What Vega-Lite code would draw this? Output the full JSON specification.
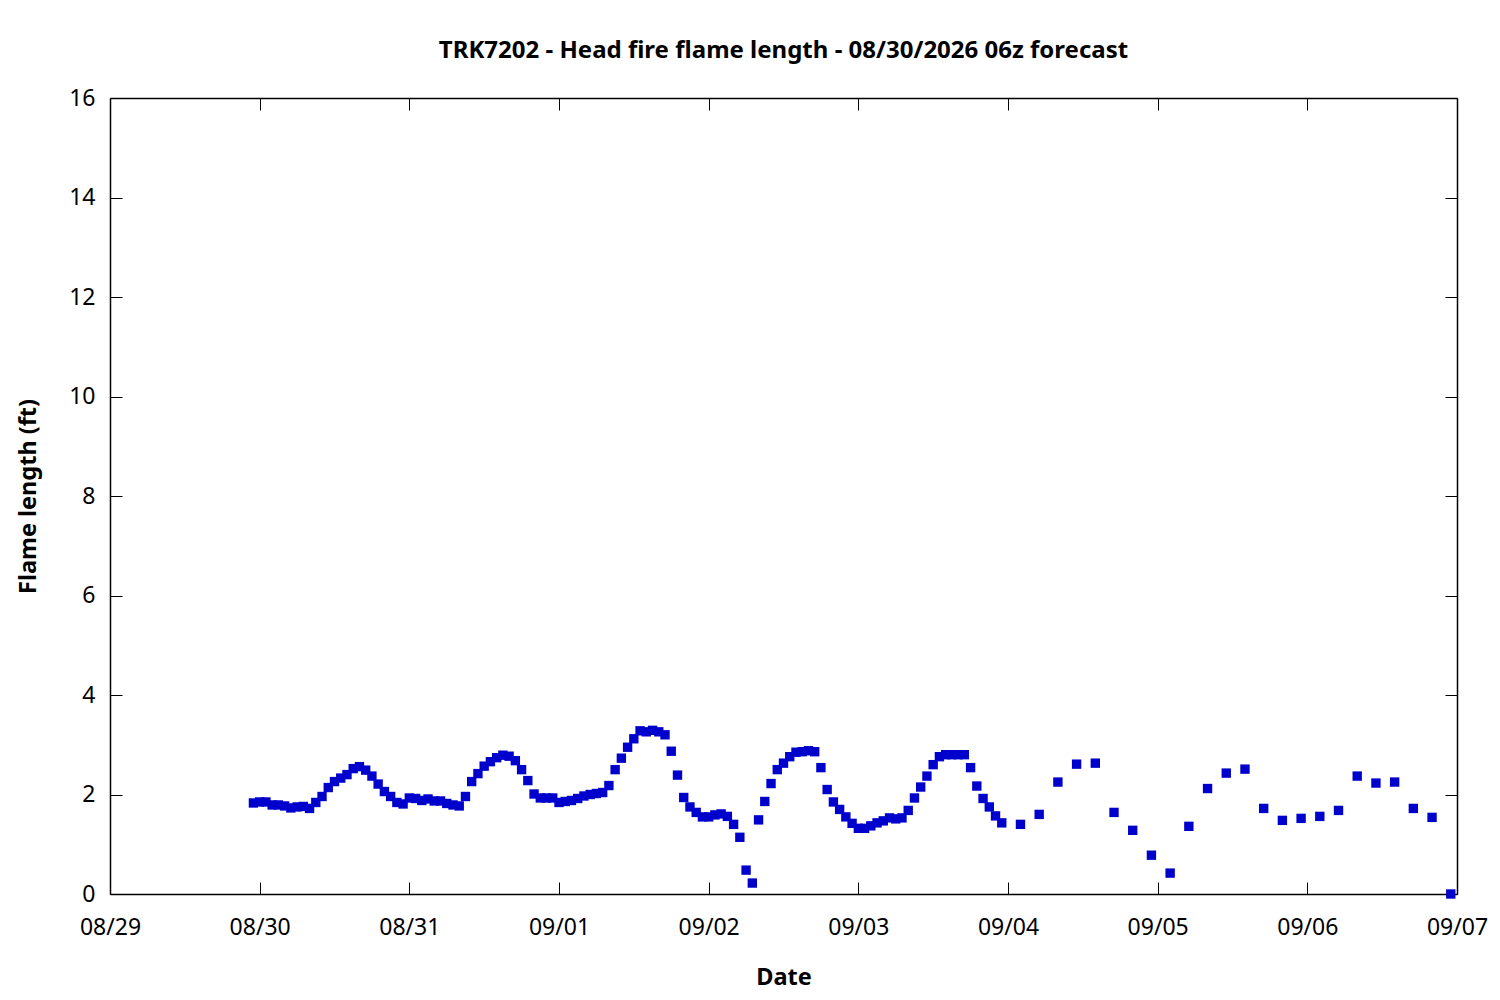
{
  "$schema": "https://vega.github.io/schema/vega-lite/v6.json",
  "autosize": "none",
  "width": 1347,
  "height": 796,
  "padding": {"left": 110, "top": 98, "right": 43, "bottom": 106},
  "background": "white",
  "title": {
    "text": "TRK7202 - Head fire flame length - 08/30/2026 06z forecast",
    "font": "Noto Sans",
    "fontSize": 24,
    "fontWeight": "bold",
    "color": "black",
    "anchor": "middle",
    "offset": 24
  },
  "config": {
    "view": {"stroke": null},
    "axis": {
      "labelFont": "Noto Sans",
      "labelFontSize": 23,
      "labelColor": "black",
      "titleFont": "Noto Sans",
      "titleFontSize": 23.5,
      "titleFontWeight": "bold",
      "titleColor": "black",
      "domainColor": "black",
      "domainWidth": 1.5,
      "tickColor": "black",
      "tickWidth": 1,
      "grid": false,
      "labelFlush": false,
      "labelOverlap": false,
      "labelBound": false
    }
  },
  "data": {
    "values": [
      {"time": "2026-08-29T23:00", "flame": 1.83},
      {"time": "2026-08-30T00:00", "flame": 1.85},
      {"time": "2026-08-30T01:00", "flame": 1.85},
      {"time": "2026-08-30T02:00", "flame": 1.79},
      {"time": "2026-08-30T03:00", "flame": 1.79},
      {"time": "2026-08-30T04:00", "flame": 1.77},
      {"time": "2026-08-30T05:00", "flame": 1.73},
      {"time": "2026-08-30T06:00", "flame": 1.75},
      {"time": "2026-08-30T07:00", "flame": 1.76},
      {"time": "2026-08-30T08:00", "flame": 1.72},
      {"time": "2026-08-30T09:00", "flame": 1.84},
      {"time": "2026-08-30T10:00", "flame": 1.96},
      {"time": "2026-08-30T11:00", "flame": 2.14},
      {"time": "2026-08-30T12:00", "flame": 2.26},
      {"time": "2026-08-30T13:00", "flame": 2.33},
      {"time": "2026-08-30T14:00", "flame": 2.40},
      {"time": "2026-08-30T15:00", "flame": 2.52},
      {"time": "2026-08-30T16:00", "flame": 2.56},
      {"time": "2026-08-30T17:00", "flame": 2.49},
      {"time": "2026-08-30T18:00", "flame": 2.37},
      {"time": "2026-08-30T19:00", "flame": 2.21},
      {"time": "2026-08-30T20:00", "flame": 2.06},
      {"time": "2026-08-30T21:00", "flame": 1.96},
      {"time": "2026-08-30T22:00", "flame": 1.84},
      {"time": "2026-08-30T23:00", "flame": 1.81},
      {"time": "2026-08-31T00:00", "flame": 1.93},
      {"time": "2026-08-31T01:00", "flame": 1.92},
      {"time": "2026-08-31T02:00", "flame": 1.88},
      {"time": "2026-08-31T03:00", "flame": 1.91},
      {"time": "2026-08-31T04:00", "flame": 1.87},
      {"time": "2026-08-31T05:00", "flame": 1.87},
      {"time": "2026-08-31T06:00", "flame": 1.82},
      {"time": "2026-08-31T07:00", "flame": 1.79},
      {"time": "2026-08-31T08:00", "flame": 1.77},
      {"time": "2026-08-31T09:00", "flame": 1.96},
      {"time": "2026-08-31T10:00", "flame": 2.26},
      {"time": "2026-08-31T11:00", "flame": 2.42},
      {"time": "2026-08-31T12:00", "flame": 2.57},
      {"time": "2026-08-31T13:00", "flame": 2.66},
      {"time": "2026-08-31T14:00", "flame": 2.74},
      {"time": "2026-08-31T15:00", "flame": 2.79},
      {"time": "2026-08-31T16:00", "flame": 2.77},
      {"time": "2026-08-31T17:00", "flame": 2.68},
      {"time": "2026-08-31T18:00", "flame": 2.50},
      {"time": "2026-08-31T19:00", "flame": 2.28},
      {"time": "2026-08-31T20:00", "flame": 2.01},
      {"time": "2026-08-31T21:00", "flame": 1.93},
      {"time": "2026-08-31T22:00", "flame": 1.93},
      {"time": "2026-08-31T23:00", "flame": 1.93},
      {"time": "2026-09-01T00:00", "flame": 1.84},
      {"time": "2026-09-01T01:00", "flame": 1.86},
      {"time": "2026-09-01T02:00", "flame": 1.88},
      {"time": "2026-09-01T03:00", "flame": 1.92},
      {"time": "2026-09-01T04:00", "flame": 1.97},
      {"time": "2026-09-01T05:00", "flame": 2.00},
      {"time": "2026-09-01T06:00", "flame": 2.02},
      {"time": "2026-09-01T07:00", "flame": 2.04},
      {"time": "2026-09-01T08:00", "flame": 2.18},
      {"time": "2026-09-01T09:00", "flame": 2.50},
      {"time": "2026-09-01T10:00", "flame": 2.73},
      {"time": "2026-09-01T11:00", "flame": 2.95},
      {"time": "2026-09-01T12:00", "flame": 3.12},
      {"time": "2026-09-01T13:00", "flame": 3.28},
      {"time": "2026-09-01T14:00", "flame": 3.26},
      {"time": "2026-09-01T15:00", "flame": 3.29},
      {"time": "2026-09-01T16:00", "flame": 3.26},
      {"time": "2026-09-01T17:00", "flame": 3.20},
      {"time": "2026-09-01T18:00", "flame": 2.87},
      {"time": "2026-09-01T19:00", "flame": 2.39},
      {"time": "2026-09-01T20:00", "flame": 1.94},
      {"time": "2026-09-01T21:00", "flame": 1.75},
      {"time": "2026-09-01T22:00", "flame": 1.64},
      {"time": "2026-09-01T23:00", "flame": 1.55},
      {"time": "2026-09-02T00:00", "flame": 1.55},
      {"time": "2026-09-02T01:00", "flame": 1.59},
      {"time": "2026-09-02T02:00", "flame": 1.61},
      {"time": "2026-09-02T03:00", "flame": 1.56},
      {"time": "2026-09-02T04:00", "flame": 1.40},
      {"time": "2026-09-02T05:00", "flame": 1.14},
      {"time": "2026-09-02T06:00", "flame": 0.48},
      {"time": "2026-09-02T07:00", "flame": 0.22},
      {"time": "2026-09-02T08:00", "flame": 1.49},
      {"time": "2026-09-02T09:00", "flame": 1.86},
      {"time": "2026-09-02T10:00", "flame": 2.22},
      {"time": "2026-09-02T11:00", "flame": 2.50},
      {"time": "2026-09-02T12:00", "flame": 2.63},
      {"time": "2026-09-02T13:00", "flame": 2.76},
      {"time": "2026-09-02T14:00", "flame": 2.85},
      {"time": "2026-09-02T15:00", "flame": 2.86},
      {"time": "2026-09-02T16:00", "flame": 2.88},
      {"time": "2026-09-02T17:00", "flame": 2.86},
      {"time": "2026-09-02T18:00", "flame": 2.54},
      {"time": "2026-09-02T19:00", "flame": 2.10},
      {"time": "2026-09-02T20:00", "flame": 1.85},
      {"time": "2026-09-02T21:00", "flame": 1.70},
      {"time": "2026-09-02T22:00", "flame": 1.55},
      {"time": "2026-09-02T23:00", "flame": 1.42},
      {"time": "2026-09-03T00:00", "flame": 1.32},
      {"time": "2026-09-03T01:00", "flame": 1.32},
      {"time": "2026-09-03T02:00", "flame": 1.37},
      {"time": "2026-09-03T03:00", "flame": 1.43},
      {"time": "2026-09-03T04:00", "flame": 1.47},
      {"time": "2026-09-03T05:00", "flame": 1.53},
      {"time": "2026-09-03T06:00", "flame": 1.51},
      {"time": "2026-09-03T07:00", "flame": 1.53},
      {"time": "2026-09-03T08:00", "flame": 1.68},
      {"time": "2026-09-03T09:00", "flame": 1.93},
      {"time": "2026-09-03T10:00", "flame": 2.15},
      {"time": "2026-09-03T11:00", "flame": 2.37},
      {"time": "2026-09-03T12:00", "flame": 2.60},
      {"time": "2026-09-03T13:00", "flame": 2.76},
      {"time": "2026-09-03T14:00", "flame": 2.80},
      {"time": "2026-09-03T15:00", "flame": 2.80},
      {"time": "2026-09-03T16:00", "flame": 2.80},
      {"time": "2026-09-03T17:00", "flame": 2.80},
      {"time": "2026-09-03T18:00", "flame": 2.54},
      {"time": "2026-09-03T19:00", "flame": 2.17},
      {"time": "2026-09-03T20:00", "flame": 1.92},
      {"time": "2026-09-03T21:00", "flame": 1.75},
      {"time": "2026-09-03T22:00", "flame": 1.57},
      {"time": "2026-09-03T23:00", "flame": 1.43},
      {"time": "2026-09-04T02:00", "flame": 1.40},
      {"time": "2026-09-04T05:00", "flame": 1.60},
      {"time": "2026-09-04T08:00", "flame": 2.25},
      {"time": "2026-09-04T11:00", "flame": 2.61},
      {"time": "2026-09-04T14:00", "flame": 2.63},
      {"time": "2026-09-04T17:00", "flame": 1.64},
      {"time": "2026-09-04T20:00", "flame": 1.28},
      {"time": "2026-09-04T23:00", "flame": 0.78},
      {"time": "2026-09-05T02:00", "flame": 0.42},
      {"time": "2026-09-05T05:00", "flame": 1.36},
      {"time": "2026-09-05T08:00", "flame": 2.12},
      {"time": "2026-09-05T11:00", "flame": 2.43},
      {"time": "2026-09-05T14:00", "flame": 2.51},
      {"time": "2026-09-05T17:00", "flame": 1.72},
      {"time": "2026-09-05T20:00", "flame": 1.48},
      {"time": "2026-09-05T23:00", "flame": 1.52},
      {"time": "2026-09-06T02:00", "flame": 1.56},
      {"time": "2026-09-06T05:00", "flame": 1.68},
      {"time": "2026-09-06T08:00", "flame": 2.37},
      {"time": "2026-09-06T11:00", "flame": 2.23},
      {"time": "2026-09-06T14:00", "flame": 2.25},
      {"time": "2026-09-06T17:00", "flame": 1.72},
      {"time": "2026-09-06T20:00", "flame": 1.54},
      {"time": "2026-09-06T23:00", "flame": 0.0}
    ]
  },
  "layer": [
    {
      "mark": {"type": "square", "size": 88, "color": "#0000cc", "opacity": 1, "clip": false},
      "encoding": {
        "x": {
          "field": "time",
          "type": "temporal",
          "scale": {
            "domain": [
              {"year": 2026, "month": 8, "date": 29},
              {"year": 2026, "month": 9, "date": 7}
            ],
            "nice": false
          },
          "axis": {
            "title": "Date",
            "format": "%m/%d",
            "tickCount": {"interval": "day", "step": 1},
            "tickSize": -12,
            "labelPadding": 34,
            "titleY": 83,
            "titleBaseline": "middle"
          }
        },
        "y": {
          "field": "flame",
          "type": "quantitative",
          "scale": {"domain": [0, 16], "nice": false},
          "axis": {
            "title": "Flame length (ft)",
            "values": [0, 2, 4, 6, 8, 10, 12, 14, 16],
            "tickSize": -12,
            "labelPadding": 27,
            "titleX": -82,
            "titleY": 398,
            "titleBaseline": "middle"
          }
        }
      }
    },
    {
      "mark": {"type": "square", "size": 0, "opacity": 0},
      "encoding": {
        "x": {
          "field": "time",
          "type": "temporal",
          "axis": {
            "orient": "top",
            "title": null,
            "labels": false,
            "tickCount": {"interval": "day", "step": 1},
            "tickSize": -12
          }
        },
        "y": {
          "field": "flame",
          "type": "quantitative",
          "axis": {
            "orient": "right",
            "title": null,
            "labels": false,
            "values": [0, 2, 4, 6, 8, 10, 12, 14, 16],
            "tickSize": -12
          }
        }
      }
    }
  ],
  "resolve": {"axis": {"x": "independent", "y": "independent"}}
}
